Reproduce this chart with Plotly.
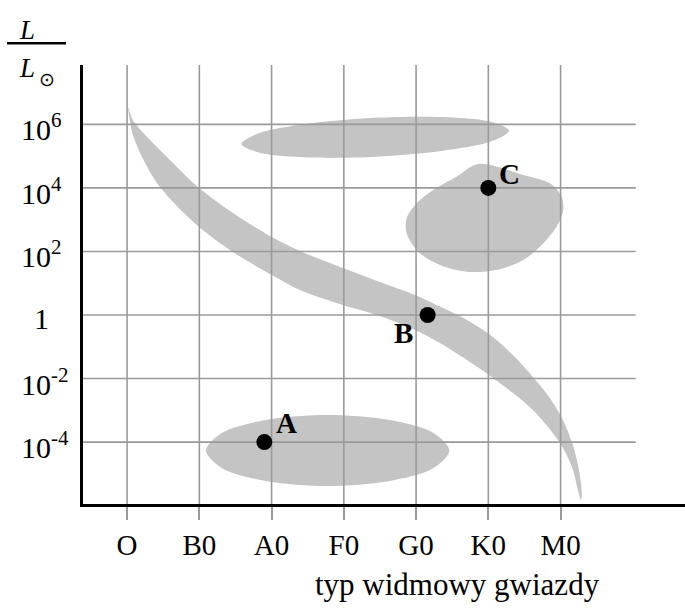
import plotly.graph_objects as go

# ---------------- data ----------------
spectral_types = ["O", "B0", "A0", "F0", "G0", "K0", "M0"]
spectral_pos = [0, 1, 2, 3, 4, 5, 6]

lum_exponents = [6, 4, 2, 0, -2, -4]
lum_labels = ["10<sup>6</sup>", "10<sup>4</sup>", "10<sup>2</sup>", "1",
              "10<sup>-2</sup>", "10<sup>-4</sup>"]

# main sequence band outline (spectral index, log10 L/Lsun)
ms_x = [0.012, 0.080, 0.200, 0.317, 0.552, 0.981, 1.466, 1.978, 2.393, 2.988,
        3.500, 3.985, 4.372, 4.704, 5.064, 5.368, 5.617, 5.852, 6.032, 6.171, 6.254, 6.295,
        6.281, 6.240, 6.158, 5.991, 5.617, 5.160, 4.704, 4.330, 3.985, 3.500,
        2.988, 2.393, 1.978, 1.466, 0.981, 0.455, 0.206, 0.081, 0.026,
        0.012]
ms_y = [6.547, 6.140, 5.790, 5.509, 4.974, 4.029, 3.211, 2.486, 2.014, 1.479,
        1.039, 0.630, 0.220, -0.157, -0.693, -1.322, -1.952, -2.612, -3.305, -4.092, -4.879, -5.666,
        -5.823, -5.508, -4.784, -4.029, -2.990, -2.140, -1.416, -0.881, -0.472, -0.031,
        0.315, 0.787, 1.290, 1.983, 2.801, 4.029, 4.974, 5.666, 6.295,
        6.547]

# supergiants outline
sg_x = [5.286, 5.032, 4.349, 3.421, 2.498, 1.822, 1.583, 1.838, 2.520, 3.449,
        4.372, 5.045, 5.286]
sg_y = [5.804, 6.081, 6.229, 6.207, 6.018, 5.719, 5.382, 5.105, 4.957, 4.979,
        5.168, 5.467, 5.804]

# giants outline
gi_x = [4.860, 5.483, 5.852, 6.014, 6.037, 5.945, 5.714, 5.483, 5.115, 4.700,
        4.330, 4.030, 3.869, 3.869, 4.008, 4.237, 4.561, 4.860]
gi_y = [4.753, 4.407, 4.145, 3.724, 3.305, 2.779, 2.150, 1.731, 1.416, 1.363,
        1.574, 1.992, 2.572, 3.044, 3.516, 3.935, 4.353, 4.753]

# white dwarfs outline
wd_x = [4.460, 4.235, 3.619, 2.776, 1.933, 1.317, 1.092, 1.317, 1.933, 2.776,
        3.619, 4.235, 4.460]
wd_y = [-4.265, -3.706, -3.299, -3.148, -3.299, -3.706, -4.265, -4.824, -5.231, -5.382,
        -5.231, -4.824, -4.265]

star_names = ["A", "B", "C"]
star_x = [1.90, 4.16, 5.00]
star_y = [-4.0, 0.0, 4.0]

x_title = "typ widmowy gwiazdy"

# ---------------- layout constants ----------------
W, H = 685, 608
ML, MR, MT, MB = 83, 0, 65, 104
PW, PH = W - ML - MR, H - MT - MB
X_MIN, X_MAX = -0.610, 7.722
Y_MIN, Y_MAX = -5.949, 7.869
GRID_RIGHT = 7.04
GRAY = "#c4c4c4"
GRID = "#9a9a9a"
SERIF = "Liberation Serif, Times New Roman, serif"


def px_x(p):
    return (p - ML) / PW


def px_y(p):
    return (H - MB - p) / PH


fig = go.Figure()

for xs, ys in [(ms_x, ms_y), (sg_x, sg_y), (gi_x, gi_y), (wd_x, wd_y)]:
    fig.add_trace(go.Scatter(
        x=xs, y=ys, mode="lines", fill="toself", fillcolor=GRAY,
        line=dict(width=0, shape="spline", smoothing=0.9, color=GRAY),
        hoverinfo="skip", showlegend=False))

# grid lines drawn over the regions
gx, gy = [], []
for p in spectral_pos:
    gx += [p, p, None]
    gy += [Y_MIN, Y_MAX, None]
fig.add_trace(go.Scatter(x=gx, y=gy, mode="lines",
                         line=dict(color=GRID, width=1.6),
                         hoverinfo="skip", showlegend=False))
hx, hy = [], []
for e in lum_exponents:
    hx += [X_MIN, GRID_RIGHT, None]
    hy += [e, e, None]
fig.add_trace(go.Scatter(x=hx, y=hy, mode="lines",
                         line=dict(color=GRID, width=1.6),
                         hoverinfo="skip", showlegend=False))

# stars
fig.add_trace(go.Scatter(x=star_x, y=star_y, mode="markers",
                         marker=dict(color="black", size=16),
                         hoverinfo="skip", showlegend=False))

label_shift = {"A": (22, 19), "B": (-24, -18), "C": (21, 14)}
for n, x, y in zip(star_names, star_x, star_y):
    dx, dy = label_shift[n]
    fig.add_annotation(x=x, y=y, text="<b>" + n + "</b>", showarrow=False,
                       xshift=dx, yshift=dy, xanchor="center", yanchor="middle",
                       font=dict(family=SERIF, size=29, color="black"))

# y tick labels
for e, lab in zip(lum_exponents, lum_labels):
    if lab == "1":
        fig.add_annotation(xref="paper", yref="y", x=px_x(41.5), y=e, text=lab,
                           showarrow=False, xanchor="center", yanchor="middle",
                           yshift=-3, font=dict(family=SERIF, size=30, color="black"))
    else:
        fig.add_annotation(xref="paper", yref="y", x=px_x(19), y=e, text=lab,
                           showarrow=False, xanchor="left", yanchor="middle",
                           yshift=-3, font=dict(family=SERIF, size=30, color="black"))

# y axis title L / L_sun
fig.add_annotation(xref="paper", yref="paper", x=px_x(27), y=px_y(30),
                   text="<i>L</i>", showarrow=False, xanchor="center", yanchor="middle",
                   font=dict(family=SERIF, size=27, color="black"))
fig.add_annotation(xref="paper", yref="paper", x=px_x(27), y=px_y(68),
                   text="<i>L</i>", showarrow=False, xanchor="center", yanchor="middle",
                   font=dict(family=SERIF, size=27, color="black"))
fig.add_annotation(xref="paper", yref="paper", x=px_x(47), y=px_y(79),
                   text="\u2299", showarrow=False, xanchor="center", yanchor="middle",
                   font=dict(family="DejaVu Sans", size=19, color="black"))
fig.add_shape(type="line", xref="paper", yref="paper",
              x0=px_x(7), x1=px_x(66), y0=px_y(43.3), y1=px_y(43.3),
              line=dict(color="black", width=2.5))

# x axis title
fig.add_annotation(xref="paper", yref="paper", x=px_x(457.5), y=px_y(584),
                   text=x_title, showarrow=False, xanchor="center", yanchor="middle",
                   font=dict(family=SERIF, size=31, color="black"))

fig.update_layout(
    width=W, height=H,
    margin=dict(l=ML, r=MR, t=MT, b=MB),
    paper_bgcolor="white", plot_bgcolor="white",
    showlegend=False,
    xaxis=dict(range=[X_MIN, X_MAX], tickvals=spectral_pos, ticktext=spectral_types,
               showgrid=False, zeroline=False, showline=True, linewidth=3,
               linecolor="black", ticks="outside", ticklen=13, tickwidth=1.6,
               tickcolor=GRID, tickfont=dict(family=SERIF, size=29, color="black"),
               fixedrange=True),
    yaxis=dict(range=[Y_MIN, Y_MAX], showticklabels=False, showgrid=False,
               zeroline=False, showline=True, linewidth=3, linecolor="black",
               ticks="", fixedrange=True),
)

fig.write_html("out.html",
               config={"displayModeBar": False},
               post_script="document.body.style.margin='0px';"
                           "document.body.style.overflow='hidden';")
